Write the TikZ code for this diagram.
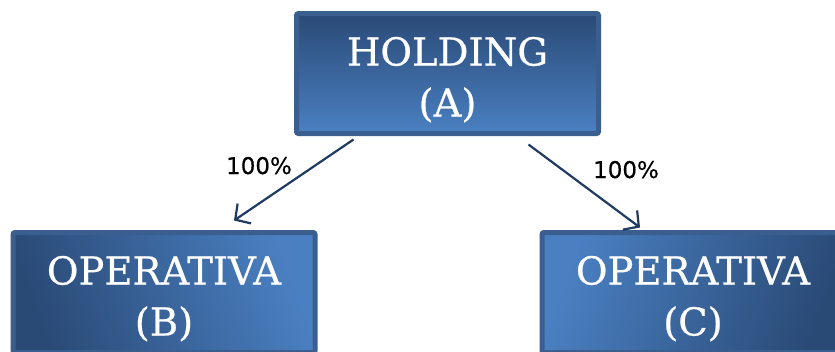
\documentclass[tikz,border=0pt]{standalone}
\usepackage{fontspec}
\setmainfont{DejaVu Serif}[FakeBold=0.6]
\newfontfamily\labelfont{DejaVu Sans}[FakeBold=0.4]
\usetikzlibrary{arrows.meta}
\definecolor{boxdark}{HTML}{2A4A76}
\definecolor{boxlight}{HTML}{4A80C2}
\definecolor{boxline}{HTML}{3A5F8E}
\definecolor{arrowcol}{HTML}{1F3A63}
\newcommand{\firstline}{\rule{0pt}{41pt}}
\begin{document}
\begin{tikzpicture}[x=1pt,y=-1pt,
  orgbox/.style={rectangle, rounded corners=2pt, draw=boxline, line width=5pt,
    minimum width=302pt, minimum height=120pt, inner sep=0pt, text=white,
    align=center, font=\fontsize{38.5}{51}\selectfont},
  link/.style={draw=arrowcol, line width=2.2pt, -{Straight Barb[length=11pt,width=24pt]}},
  pct/.style={font=\labelfont\fontsize{23}{27}\selectfont, text=black, inner sep=0pt, anchor=base}]
\useasboundingbox (0,0) rectangle (835,351);
\clip (0,0) rectangle (835,351);
\node[orgbox, top color=boxdark, bottom color=boxlight] (A) at (447.5,73.5) {\firstline HOLDING\\(A)};
\node[orgbox, left color=boxdark, right color=boxlight, shading angle=110] (B) at (164,292.5) {\firstline OPERATIVA\\(B)};
\node[orgbox, left color=boxlight, right color=boxdark, shading angle=70] (C) at (693,292.5) {\firstline OPERATIVA\\(C)};
\draw[link] ([xshift=59.5pt,yshift=-3.5pt]A.south west) -- ([xshift=223.5pt,yshift=9.5pt]B.north west);
\draw[link] ([xshift=234.5pt,yshift=-8.5pt]A.south west) -- ([xshift=100.5pt,yshift=2.5pt]C.north west);
\node[pct] (lb) at (259,174) {100\%};
\node[pct] (lc) at (626,178) {100\%};
\end{tikzpicture}
\end{document}
